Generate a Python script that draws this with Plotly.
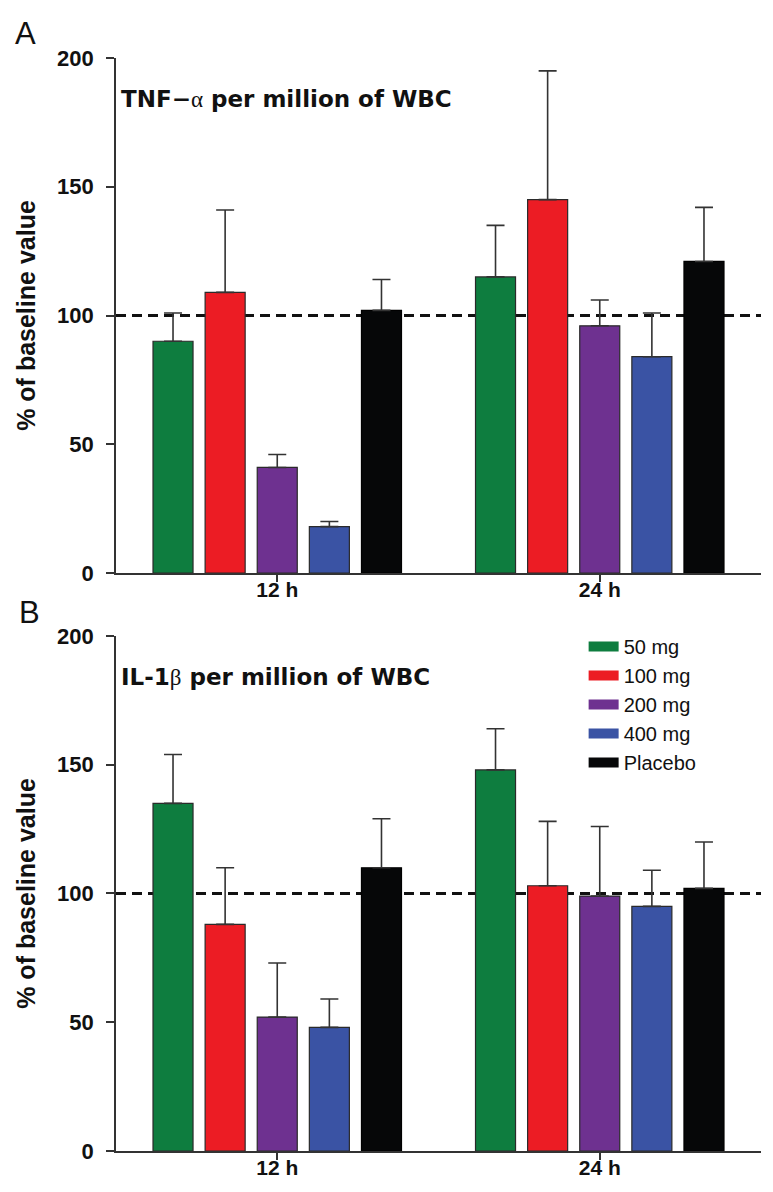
import plotly.graph_objects as go

# ---- data ----
timepoints = ["12 h", "24 h"]
doses = ["50 mg", "100 mg", "200 mg", "400 mg", "Placebo"]
colors = ["#0E7D3F", "#EC1C24", "#6E3190", "#3A53A4", "#060708"]

# Panel A: TNF-alpha per million of WBC (% of baseline), mean and upper error
tnf_12h = [90, 109, 41, 18, 102]
tnf_12h_err = [11, 32, 5, 2, 12]
tnf_24h = [115, 145, 96, 84, 121]
tnf_24h_err = [20, 50, 10, 17, 21]

# Panel B: IL-1beta per million of WBC (% of baseline)
il_12h = [135, 88, 52, 48, 110]
il_12h_err = [19, 22, 21, 11, 19]
il_24h = [148, 103, 99, 95, 102]
il_24h_err = [16, 25, 27, 14, 18]

y_ticks = [0, 50, 100, 150, 200]
baseline = 100

FONT = "Liberation Sans, Arial, Helvetica, sans-serif"
AXC = "#333333"

fig = go.Figure()

panels = [
    ("x", "y", tnf_12h, tnf_24h, tnf_12h_err, tnf_24h_err),
    ("x2", "y2", il_12h, il_24h, il_12h_err, il_24h_err),
]
for xa, ya, m12, m24, e12, e24 in panels:
    for i, dose in enumerate(doses):
        fig.add_trace(go.Bar(
            x=timepoints, y=[m12[i], m24[i]],
            xaxis=xa, yaxis=ya,
            name=dose, showlegend=False,
            marker=dict(color=colors[i],
                        line=dict(color="#000000" if i == 4 else "#2a2a2a", width=1.2)),
            error_y=dict(type="data", symmetric=False,
                         array=[e12[i], e24[i]], arrayminus=[0, 0],
                         color=AXC, thickness=1.6, width=9),
        ))

# legend entries (wide swatches)
for i, dose in enumerate(doses):
    fig.add_trace(go.Scatter(
        x=[None], y=[None], xaxis="x2", yaxis="y2", mode="lines",
        line=dict(color=colors[i], width=12), name=dose, showlegend=True,
        legendgroup=dose,
    ))

axis_common = dict(showline=True, linecolor=AXC, linewidth=1.6, showgrid=False,
                   zeroline=False, ticks="outside", tickcolor=AXC, tickwidth=1.6)

xcommon = dict(type="category", range=[-0.5, 1.5], ticklen=7, ticklabelstandoff=-10,
               tickfont=dict(size=21, weight="bold", family=FONT), **axis_common)
ycommon = dict(range=[0, 200], tickvals=y_ticks, ticklen=8, ticklabelstandoff=8,
               tickfont=dict(size=22, weight="bold", family=FONT),
               title=dict(text="% of baseline value", standoff=14,
                          font=dict(size=25, weight="bold", family=FONT)),
               **axis_common)

fig.update_layout(
    width=773, height=1192,
    margin=dict(l=108, r=20, t=50, b=49),
    paper_bgcolor="white", plot_bgcolor="white",
    barmode="group", bargap=0.192, bargroupgap=0.232,
    font=dict(family=FONT, color="#111111"),
    xaxis=dict(domain=[0, 1], anchor="y", **xcommon),
    yaxis=dict(domain=[0.5288, 1], anchor="x", **ycommon),
    xaxis2=dict(domain=[0, 1], anchor="y2", **xcommon),
    yaxis2=dict(domain=[0, 0.4712], anchor="x2", **ycommon),
    legend=dict(x=0.725, xanchor="left", y=0.4794, yanchor="top",
                font=dict(size=20, family=FONT, color="#111111"),
                bgcolor="rgba(0,0,0,0)", tracegroupgap=1, traceorder="normal"),
    showlegend=True,
)

for ya, xa in [("y", "x"), ("y2", "x2")]:
    fig.add_shape(type="line", xref=f"{xa} domain", yref=ya, x0=0, x1=1,
                  y0=baseline, y1=baseline, layer="below",
                  line=dict(color="#111111", width=3, dash="10px,6px"))

greek = '<span style="font-family:Liberation Serif;font-weight:normal">{}</span>'
fig.add_annotation(text="TNF\u2212" + greek.format("\u03b1") + " per million of WBC",
                   xref="x domain", yref="y", x=0.004, y=184, xanchor="left",
                   yanchor="middle", showarrow=False,
                   font=dict(size=23, weight="bold", family="DejaVu Sans", color="#111111"))
fig.add_annotation(text="IL-1" + greek.format("\u03b2") + " per million of WBC",
                   xref="x2 domain", yref="y2", x=0.004, y=184, xanchor="left",
                   yanchor="middle", showarrow=False,
                   font=dict(size=23, weight="bold", family="DejaVu Sans", color="#111111"))
fig.add_annotation(text="A", xref="paper", yref="paper", x=-0.16, y=1.022,
                   xanchor="left", yanchor="middle", showarrow=False,
                   font=dict(size=31, family=FONT, color="#111111"))
fig.add_annotation(text="B", xref="paper", yref="paper", x=-0.153, y=0.493,
                   xanchor="left", yanchor="middle", showarrow=False,
                   font=dict(size=31, family=FONT, color="#111111"))

fig.write_html("out.html", config={"displayModeBar": False})
